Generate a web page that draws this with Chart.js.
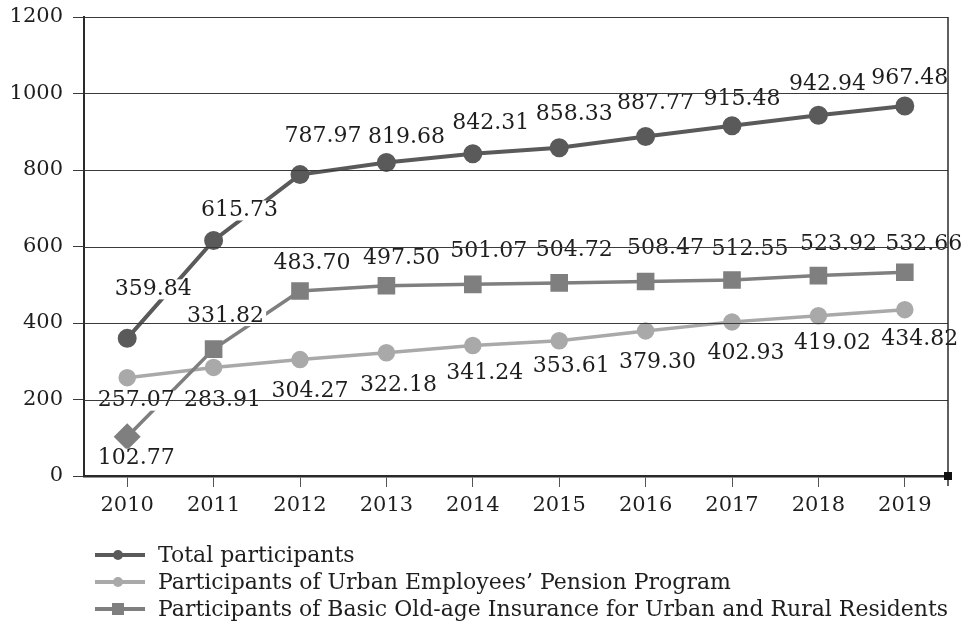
<!DOCTYPE html>
<html>
<head>
<meta charset="utf-8">
<script src="https://cdn.jsdelivr.net/npm/chart.js@4.4.1/dist/chart.umd.min.js"></script>
<style>
  html, body { margin: 0; padding: 0; background: #fff; }
  #wrap { width: 968px; height: 624px; }
</style>
</head>
<body>
<div id="wrap"><canvas id="chartPart"></canvas></div>
<script>
// dados
var years = ['2010', '2011', '2012', '2013', '2014', '2015', '2016', '2017', '2018', '2019'];
var totalPart = [359.84, 615.73, 787.97, 819.68, 842.31, 858.33, 887.77, 915.48, 942.94, 967.48];
var urbanEmp = [257.07, 283.91, 304.27, 322.18, 341.24, 353.61, 379.30, 402.93, 419.02, 434.82];
var basicRes = [102.77, 331.82, 483.70, 497.50, 501.07, 504.72, 508.47, 512.55, 523.92, 532.66];
var yTicks = [0, 200, 400, 600, 800, 1000, 1200];

var names = [
    'Total participants',
    'Participants of Urban Employees\u2019 Pension Program',
    'Participants of Basic Old-age Insurance for Urban and Rural Residents'
];

// deslocamento dos rotulos (x, y) em relacao ao ponto
var offTotal = [[26, -49], [26, -30], [23, -38], [20, -25], [18, -31], [15, -33], [10, -33], [10, -27], [9, -31], [5, -28]];
var offUrban = [[9, 23], [9, 33], [10, 32], [12, 33], [12, 28], [12, 26], [12, 31], [14, 31], [14, 28], [15, 30]];
var offBasic = [[9, 22], [12, -33], [12, -28], [15, -27], [16, -33], [15, -33], [20, -33], [18, -31], [20, -31], [19, -28]];

var fontName = '"DejaVu Serif", serif';

function drawGrid(chart) {
    var ctx = chart.ctx;
    var ys = chart.scales.y;
    var area = chart.chartArea;
    ctx.save();
    ctx.strokeStyle = '#3a3a3a';
    ctx.lineWidth = 1;
    yTicks.forEach(function (t) {
        if (t === 0) return;
        var py = Math.round(ys.getPixelForValue(t)) + 0.5;
        ctx.beginPath();
        ctx.moveTo(area.left, py);
        ctx.lineTo(area.right, py);
        ctx.stroke();
    });
    ctx.restore();
}

const labelPlugin = {
    id: 'valueLabels',
    afterDatasetsDraw(chart) {
        var ctx = chart.ctx;
        var offs = [offTotal, offUrban, offBasic];
        ctx.save();
        ctx.font = '22px ' + fontName;
        ctx.textAlign = 'center';
        ctx.textBaseline = 'middle';
        chart.data.datasets.forEach(function (ds, di) {
            var meta = chart.getDatasetMeta(di);
            meta.data.forEach(function (pt, i) {
                var txt = ds.data[i].toFixed(2);
                var x = pt.x + offs[di][i][0];
                var y = pt.y + offs[di][i][1];
                var w = ctx.measureText(txt).width;
                ctx.fillStyle = '#fff';
                ctx.fillRect(x - w / 2 - 2, y - 10, w + 4, 20);
                ctx.fillStyle = '#1e1e1e';
                ctx.fillText(txt, x, y);
            });
        });
        ctx.restore();
        // linhas de grade por cima dos rotulos
        drawGrid(chart);
    }
};

const framePlugin = {
    id: 'frame',
    afterDraw(chart) {
        var ctx = chart.ctx;
        var a = chart.chartArea;
        ctx.save();
        ctx.strokeStyle = '#2a2a2a';
        ctx.lineWidth = 1.5;
        ctx.beginPath();
        ctx.moveTo(a.right, a.top);
        ctx.lineTo(a.right, a.bottom + 10);
        ctx.stroke();
        ctx.fillStyle = '#111';
        ctx.fillRect(a.right - 4, a.bottom - 4, 8, 8);

        // legenda
        var rows = [555, 582, 609];
        var cols = ['#5a5a5a', '#a9a9aa', '#7f7f80'];
        ctx.font = '22px ' + fontName;
        ctx.textBaseline = 'middle';
        ctx.textAlign = 'left';
        rows.forEach(function (ry, i) {
            ctx.strokeStyle = cols[i];
            ctx.lineWidth = 4;
            ctx.beginPath();
            ctx.moveTo(95, ry);
            ctx.lineTo(145, ry);
            ctx.stroke();
            ctx.fillStyle = cols[i];
            if (i < 2) {
                ctx.beginPath();
                ctx.arc(118, ry, 5, 0, Math.PI * 2);
                ctx.fill();
            } else {
                ctx.fillRect(112, ry - 6, 12, 12);
            }
            ctx.fillStyle = '#1e1e1e';
            ctx.fillText(names[i], 158, ry + 1, 790);
        });
        ctx.restore();
    }
};

const data = {
    labels: years,
    datasets: [{
        label: names[0],
        data: totalPart,
        borderColor: '#5a5a5a',
        backgroundColor: '#5a5a5a',
        borderWidth: 4,
        pointRadius: 7.5,
        pointStyle: 'circle',
        order: 1
    },
    {
        label: names[1],
        data: urbanEmp,
        borderColor: '#a9a9aa',
        backgroundColor: '#a9a9aa',
        borderWidth: 3.5,
        pointRadius: 7,
        pointStyle: 'circle',
        order: 3
    },
    {
        label: names[2],
        data: basicRes,
        borderColor: '#7f7f80',
        backgroundColor: '#7f7f80',
        borderWidth: 3.5,
        pointRadius: [11, 10, 10, 10, 10, 10, 10, 10, 10, 10],
        pointStyle: ['rectRot', 'rect', 'rect', 'rect', 'rect', 'rect', 'rect', 'rect', 'rect', 'rect'],
        order: 2
    }]
};

const config = {
    type: 'line',
    data: data,
    options: {
        responsive: true,
        maintainAspectRatio: false,
        animation: false,
        layout: { padding: { left: 0, right: 20, top: 17, bottom: 0 } },
        plugins: {
            legend: { display: false },
            tooltip: { enabled: false }
        },
        scales: {
            x: {
                offset: true,
                grid: {
                    drawOnChartArea: false,
                    drawTicks: true,
                    tickLength: 11,
                    color: '#555'
                },
                border: { color: '#2a2a2a', width: 2.5 },
                ticks: {
                    color: '#1e1e1e',
                    padding: 6,
                    font: { family: fontName, size: 21 }
                },
                afterFit: function (s) { s.height = 148; }
            },
            y: {
                min: 0,
                max: 1200,
                afterBuildTicks: function (s) {
                    s.ticks = yTicks.map(function (v) { return { value: v }; });
                },
                grid: {
                    drawOnChartArea: false,
                    color: '#3a3a3a',
                    lineWidth: 1,
                    tickLength: 11
                },
                border: { color: '#2a2a2a', width: 2 },
                ticks: {
                    color: '#1e1e1e',
                    padding: 10,
                    font: { family: fontName, size: 21 },
                    callback: function (v) { return String(v); }
                },
                afterFit: function (s) {
                    s.width = 84;
                    s.paddingTop = 0;
                    s.paddingBottom = 0;
                }
            }
        }
    },
    plugins: [labelPlugin, framePlugin]
};

const myChart = new Chart(document.getElementById('chartPart'), config);
</script>
</body>
</html>
